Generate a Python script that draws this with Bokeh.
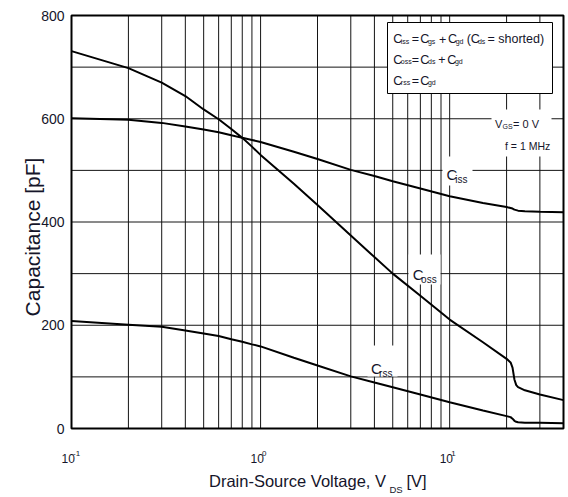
import math
from bokeh.plotting import figure
from bokeh.models import Label
from bokeh.embed import file_html
from bokeh.resources import INLINE

# ---- data ----
vds = [0.1, 0.2, 0.3, 0.4, 0.5, 0.6, 0.7, 0.8, 0.9, 1, 1.5, 2, 3, 4, 5, 7, 10, 15, 20, 21, 21.5, 22, 22.5, 23, 25, 30, 40]
ciss = [601, 598, 592, 585, 579, 574, 568, 563, 559, 555, 536, 522, 501, 489, 479, 465, 450, 437, 429, 427, 426, 424, 423, 422, 421, 420, 419]
coss = [731, 698, 670, 644, 618, 599, 580, 563, 546, 530, 474, 433, 374, 332, 300, 257, 211, 167, 135, 128, 118, 95, 84, 80, 74, 66, 55]
crss = [208, 201, 197, 190, 184, 179, 173, 168, 163, 159, 137, 122, 101, 89, 80, 66, 51, 35, 24, 22, 19, 15, 13, 12, 11, 11, 10]

x_major = [0.1, 1, 10]
x_exps = ["-1", "0", "1"]
x_grid = [0.1, 0.2, 0.3, 0.4, 0.5, 0.6, 0.7, 0.8, 0.9, 1, 2, 3, 4, 5, 6, 7, 8, 9, 10, 20, 30, 40]
y_major = [0, 200, 400, 600, 800]
y_grid = [0, 100, 200, 300, 400, 500, 600, 700, 800]

FONT = "Liberation Sans"
TXT = "#15152a"

W, H = 568, 497
# plot box (0.1..40 x 0..800) in canvas pixels
FL, FR, FT, FB = 71, 563, 15, 428
XMIN, XMAX, YMIN, YMAX = 0.1, 40, 0, 800
DEC = (FR - FL) / math.log10(XMAX / XMIN)


def px2x(px):
    return XMIN * 10 ** ((px - FL) / DEC)


def px2y(py):
    return YMIN + (FB - py) / (FB - FT) * (YMAX - YMIN)


p = figure(width=W, height=H, x_axis_type="log",
           x_range=(px2x(0), px2x(W)), y_range=(px2y(H), px2y(0)),
           output_backend="svg", toolbar_location=None, min_border=0)
p.axis.visible = False
p.grid.visible = False
p.outline_line_color = None
p.background_fill_color = "white"
p.border_fill_color = "white"

GRID = "#141414"
# grid lines of the plot box
p.segment(x0=x_grid, y0=[YMIN] * len(x_grid), x1=x_grid, y1=[YMAX] * len(x_grid),
          line_color=GRID, line_width=1)
p.segment(x0=[XMIN] * len(y_grid), y0=y_grid, x1=[XMAX] * len(y_grid), y1=y_grid,
          line_color=GRID, line_width=1)


# white patches behind in-plot labels (cover grid lines)
def white_box(l, r, t, b, line=None):
    p.quad(left=[px2x(l)], right=[px2x(r)], top=[px2y(t)], bottom=[px2y(b)],
           fill_color="white", line_color=line, line_width=1)


white_box(491, 551, 109, 156)   # VGS / f
white_box(442, 472, 156, 185)   # Ciss
white_box(408, 440, 254, 284)   # Coss
white_box(367, 397, 345, 376)   # Crss
white_box(387, 552, 22, 93, line="black")  # legend box

# frame of the plot box
p.quad(left=[XMIN], right=[XMAX], bottom=[YMIN], top=[YMAX],
       fill_color=None, line_color="black", line_width=2)

# curves
for ys in (ciss, coss, crss):
    p.line(vds, ys, line_color="black", line_width=2)


def put(px, py, text, size, angle=0.0, align="left"):
    p.add_layout(Label(x=px2x(px), y=px2y(py), text=text, text_font=FONT,
                       text_font_size=f"{size}px", text_baseline="alphabetic",
                       text_align=align, text_color=TXT, angle=angle))


def formula(yb, parts, size=12.5, sub=7, drop=2):
    for px, txt, is_sub in parts:
        if is_sub:
            put(px, yb + drop, txt, sub)
        else:
            put(px, yb, txt, size)


# legend texts
formula(38.5, [(392.8, "C", 0), (400.3, "iss", 1), (411.3, "=", 0), (419.8, "C", 0),
               (427.4, "gs", 1), (438.5, "+", 0), (447.6, "C", 0), (455.2, "gd", 1),
               (466.2, "(C", 0), (477.4, "ds", 1), (487.0, "= shorted)", 0)])
formula(59.2, [(392.8, "C", 0), (400.3, "oss", 1), (411.3, "=", 0), (419.8, "C", 0),
               (427.6, "ds", 1), (437.7, "+", 0), (446.7, "C", 0), (454.4, "gd", 1)])
formula(80.0, [(392.8, "C", 0), (400.3, "rss", 1), (411.3, "=", 0), (419.8, "C", 0),
               (427.4, "gd", 1)])

# conditions
formula(123.3, [(494.5, "V", 0), (502.0, "GS", 1), (512.5, "= 0 V", 0)], size=11, sub=7, drop=3)
put(504.5, 145.0, "f = 1 MHz", 10.5)

# curve labels
formula(174.0, [(446.0, "C", 0), (454.8, "iss", 1)], size=15, sub=10, drop=5)
formula(273.5, [(412.3, "C", 0), (420.6, "oss", 1)], size=15, sub=10, drop=5)
formula(367.5, [(370.6, "C", 0), (378.6, "rss", 1)], size=15, sub=10, drop=5)

# y tick labels
for yv in y_major:
    p.add_layout(Label(x=XMIN, y=yv, x_offset=-7, text=str(yv), text_font=FONT,
                       text_font_size="14px", text_baseline="middle", text_align="right",
                       text_color=TXT))

# x tick labels (10^n)
for xv, ex in zip(x_major, x_exps):
    p.add_layout(Label(x=xv, y=px2y(458), x_offset=-10, text="10", text_font=FONT,
                       text_font_size="12px", text_baseline="alphabetic", text_align="left",
                       text_color=TXT))
    p.add_layout(Label(x=xv, y=px2y(453), x_offset=1.5, text=ex, text_font=FONT,
                       text_font_size="8px", text_baseline="alphabetic", text_align="left",
                       text_color=TXT))

# axis titles
put(208.5, 480.7, "Drain-Source Voltage, V", 16.5)
put(389.0, 489.0, "DS", 9.5)
put(406.0, 480.7, "[V]", 16.5)
put(31.5, 236.5, "Capacitance [pF]", 21, angle=math.pi / 2, align="center")

open("out.html", "w").write(file_html(p, INLINE))
